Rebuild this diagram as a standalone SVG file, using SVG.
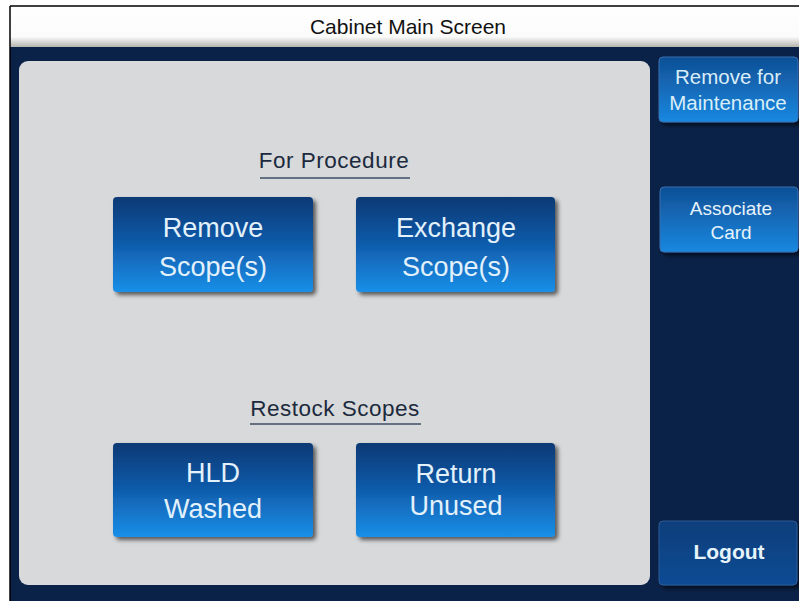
<svg xmlns="http://www.w3.org/2000/svg" width="799" height="601" viewBox="0 0 799 601">
<defs>
<linearGradient id="hdr" x1="0" y1="0" x2="0" y2="1">
<stop offset="0" stop-color="#ffffff"/>
<stop offset="0.75" stop-color="#fbfbfb"/>
<stop offset="1" stop-color="#b5b4ae"/>
</linearGradient>
<linearGradient id="btn" x1="0" y1="0" x2="0" y2="1">
<stop offset="0" stop-color="#0a3974"/>
<stop offset="0.45" stop-color="#0f58a6"/>
<stop offset="1" stop-color="#1a8fe8"/>
</linearGradient>
<linearGradient id="side" x1="0" y1="0" x2="0" y2="1">
<stop offset="0" stop-color="#0f4f95"/>
<stop offset="1" stop-color="#1a88e0"/>
</linearGradient>
<linearGradient id="logout" x1="0" y1="0" x2="0" y2="1">
<stop offset="0" stop-color="#0f3e7a"/>
<stop offset="1" stop-color="#0c4b94"/>
</linearGradient>
<filter id="sh" x="-10%" y="-10%" width="125%" height="130%">
<feDropShadow dx="3" dy="3" stdDeviation="2" flood-color="#000" flood-opacity="0.6"/>
</filter>
</defs>
<style>
text{font-family:"Liberation Sans",Arial,Helvetica,sans-serif;text-anchor:middle}
.big{font-size:27px;fill:#e2f1fb}
.sideT{font-size:20.5px;fill:#d9eef9}
.sec{font-size:22.5px;letter-spacing:0.5px;fill:#1c2a3d}
.ul{stroke:#3c4e66;stroke-width:1.5}
</style>
<rect x="0" y="0" width="799" height="601" fill="#ffffff"/>
<rect x="10" y="46" width="789" height="555" fill="#0b2248"/>
<g id="header">
<rect x="10" y="6" width="789" height="41" fill="url(#hdr)"/>
<line x1="10" y1="6" x2="799" y2="6" stroke="#000" stroke-width="1.5"/>
<line x1="10" y1="6" x2="10" y2="601" stroke="#000" stroke-width="1.5"/>
<text x="408" y="34" font-size="21" fill="#111">Cabinet Main Screen</text>
</g>
<g id="panel">
<rect x="19" y="61" width="631" height="524" rx="9" fill="#d8d9db"/>
</g>
<g id="for-procedure">
<text class="sec" x="334" y="168">For Procedure</text>
<line class="ul" x1="260" y1="178" x2="410" y2="178"/>
</g>
<g id="remove-scopes">
<rect x="113" y="197" width="200" height="95" rx="4" fill="url(#btn)" filter="url(#sh)"/>
<text class="big" x="213" y="237">Remove</text>
<text class="big" x="213" y="276">Scope(s)</text>
</g>
<g id="exchange-scopes">
<rect x="356" y="197" width="199" height="95" rx="4" fill="url(#btn)" filter="url(#sh)"/>
<text class="big" x="456" y="237">Exchange</text>
<text class="big" x="456" y="276">Scope(s)</text>
</g>
<g id="restock-scopes">
<text class="sec" x="335" y="416">Restock Scopes</text>
<line class="ul" x1="250" y1="424" x2="421" y2="424"/>
</g>
<g id="hld-washed">
<rect x="113" y="443" width="200" height="94" rx="4" fill="url(#btn)" filter="url(#sh)"/>
<text class="big" x="213" y="482">HLD</text>
<text class="big" x="213" y="518">Washed</text>
</g>
<g id="return-unused">
<rect x="356" y="443" width="199" height="94" rx="4" fill="url(#btn)" filter="url(#sh)"/>
<text class="big" x="456" y="483">Return</text>
<text class="big" x="456" y="515">Unused</text>
</g>
<g id="remove-maintenance">
<rect x="659" y="57" width="139" height="65" rx="4" fill="url(#side)" stroke="#3b6fae" stroke-width="1" filter="url(#sh)"/>
<text class="sideT" x="728" y="84">Remove for</text>
<text class="sideT" x="728" y="110">Maintenance</text>
</g>
<g id="associate-card">
<rect x="660" y="187" width="138" height="65" rx="4" fill="url(#side)" stroke="#3b6fae" stroke-width="1" filter="url(#sh)"/>
<text x="731" y="215" font-size="19" fill="#e6f3fb">Associate</text>
<text x="731" y="239" font-size="19" fill="#e6f3fb">Card</text>
</g>
<g id="logout">
<rect x="659" y="521" width="138" height="64" rx="4" fill="url(#logout)" stroke="#2c5a95" stroke-width="1" filter="url(#sh)"/>
<text x="729" y="559" font-size="21" font-weight="bold" fill="#e6f3fb">Logout</text>
</g>
<g id="connectors"></g>
</svg>
